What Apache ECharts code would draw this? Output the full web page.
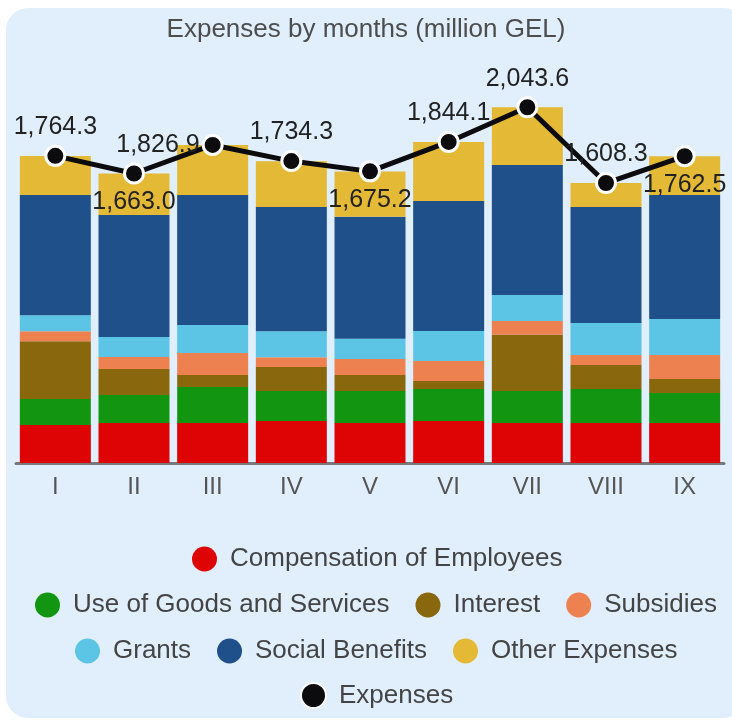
<!DOCTYPE html>
<html>
<head>
<meta charset="utf-8">
<title>Expenses by months</title>
<script src="https://cdn.jsdelivr.net/npm/echarts@6/dist/echarts.min.js"></script>
<style>
  html, body { margin: 0; padding: 0; background: #ffffff; overflow: hidden; }
  .panel {
    position: absolute; left: 6px; top: 8px; width: 740px; height: 710px;
    background: #e1effc; border-radius: 22px;
  }
  #chart { position: absolute; left: 0; top: 0; width: 732px; height: 722px; }
</style>
</head>
<body>
<div class="panel"></div>
<div id="chart"></div>
<script>
const months = ["I", "II", "III", "IV", "V", "VI", "VII", "VIII", "IX"];

const compensation = [218, 230, 230, 241, 230, 241, 230, 230, 230];
const goodsServices = [149, 161, 207, 172, 184, 184, 184, 195, 172];
const interest = [333, 149, 69, 138, 92, 46, 322, 138, 80];
const subsidies = [57, 69, 126, 57, 92, 115, 80, 57, 138];
const grants = [92, 115, 161, 149, 115, 172, 149, 184, 207];
const socialBenefits = [690, 701, 747, 713, 701, 747, 747, 667, 713];
const otherExpenses = [225, 238, 287, 264, 261, 339, 332, 137, 222];
const expenses = [1764.3, 1663.0, 1826.9, 1734.3, 1675.2, 1844.1, 2043.6, 1608.3, 1762.5];

// where each total label sits relative to its point
const labelPlaces = ["top", "bottom", "left", "top", "bottom", "top", "top", "top", "bottom"];

const font = "'Liberation Sans', Arial, sans-serif";

const barSeries = [
  { name: "Compensation of Employees", color: "#de0305", data: compensation },
  { name: "Use of Goods and Services", color: "#129612", data: goodsServices },
  { name: "Interest", color: "#88670d", data: interest },
  { name: "Subsidies", color: "#ed8150", data: subsidies },
  { name: "Grants", color: "#5cc4e5", data: grants },
  { name: "Social Benefits", color: "#1f508a", data: socialBenefits },
  { name: "Other Expenses", color: "#e3b935", data: otherExpenses }
].map((s) => ({
  name: s.name,
  type: "bar",
  stack: "total",
  barWidth: 71,
  itemStyle: { color: s.color },
  data: s.data
}));

const fmt = (v) => v.toLocaleString("en-US", { minimumFractionDigits: 1, maximumFractionDigits: 1 });

const lineSeries = {
  name: "Expenses",
  type: "line",
  z: 10,
  symbol: "circle",
  symbolSize: 19,
  color: "#0c0c0e",
  lineStyle: { width: 5, color: "#0c0c0e" },
  itemStyle: { color: "#0c0c0e", borderColor: "#ffffff", borderWidth: 3 },
  data: expenses.map((v, i) => ({
    value: v,
    label: { position: labelPlaces[i], distance: labelPlaces[i] === "left" ? 2 : 5 }
  })),
  label: {
    show: true,
    color: "#222222",
    fontSize: 25,
    fontFamily: font,
    formatter: (p) => fmt(p.value)
  }
};

// legend rows are centred on the panel, which is wider than the window
const legendBase = {
  icon: "circle",
  itemWidth: 25,
  itemHeight: 25,
  itemGap: 26,
  textStyle: { color: "#444444", fontSize: 26, fontFamily: font, padding: [0, 0, 0, 8] }
};

const chart = echarts.init(document.getElementById("chart"));
chart.setOption({
  animation: false,
  backgroundColor: "transparent",
  title: {
    text: "Expenses by months (million GEL)",
    left: "center",
    top: 12,
    textStyle: { color: "#4d4d4d", fontSize: 26, fontWeight: "normal", fontFamily: font }
  },
  legend: [
    Object.assign({}, legendBase, { left: 187, top: 541, data: ["Compensation of Employees"] }),
    Object.assign({}, legendBase, { left: 30, top: 587, data: ["Use of Goods and Services", "Interest", "Subsidies"] }),
    Object.assign({}, legendBase, { left: 70, top: 633, data: ["Grants", "Social Benefits", "Other Expenses"] }),
    Object.assign({}, legendBase, { left: 295, top: 677, data: ["Expenses"] })
  ],
  grid: { left: 16, right: 8, top: 80, bottom: 259 },
  xAxis: {
    type: "category",
    data: months,
    axisTick: { show: false },
    axisLine: { lineStyle: { color: "#77797d", width: 3 } },
    axisLabel: { color: "#555555", fontSize: 24, fontFamily: font, margin: 12 }
  },
  yAxis: {
    type: "value",
    min: 0,
    max: 2200,
    show: false,
    splitLine: { show: false }
  },
  series: [...barSeries, lineSeries]
});
</script>
</body>
</html>
